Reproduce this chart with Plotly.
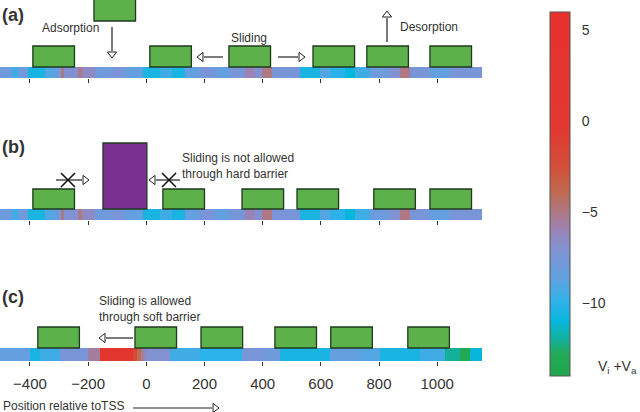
import plotly.graph_objects as go

# ---------------- data ----------------
# energy landscape (Vi+Va) along the DNA, piecewise segments (bp edges, values)
strip_ab_edges = [-503, -462, -441, -407, -349, -314, -294, -284, -235, -221, -177, -125, -74, -12,
                  47, 88, 133, 184, 236, 287, 339, 373, 397, 432, 528, 596, 631, 683, 717, 769,
                  837, 872, 906, 975, 1044, 1154]
strip_ab_values = [-8, -9.5, -8, -10.5, -9, -8, -5, -7, -5, -6.5, -8, -7.5, -8.5, -10.5, -9.5,
                   -10.5, -8.5, -7.5, -8.5, -7.5, -6, -7, -5, -7.5, -10.5, -9, -10, -11, -9.5,
                   -8, -7, -5, -7.5, -8.5, -7.5]
strip_c_edges = [-503, -400, -366, -297, -201, -160, -46, -32, -19, -8, 2, 81, 184, 329, 408,
                 459, 631, 734, 803, 941, 1027, 1078, 1113, 1154]
strip_c_values = [-8.5, -10.5, -9.5, -7.5, -5.5, 1, -2, -4, -5.5, -6.5, -7, -9.5, -10, -7.5, -8,
                  -10.5, -8.5, -9, -10.5, -9.5, -12, -13, -11]

# nucleosome start positions (bp)
nuc_a = [-390, 12, 284, 573, 758, 975]
nuc_a_adsorbing = [-180]
nuc_b = [-390, 57, 329, 518, 782, 975]
barrier_b = [-149]
nuc_c = [-373, -39, 188, 442, 634, 899]
nuc_width = 143
barrier_width = 151

tick_vals = [-400, -200, 0, 200, 400, 600, 800, 1000]
cbar_ticks = [-10, -5, 0, 5]

# ---------------- layout helpers ----------------
W, H = 640, 412
XR = [-503, 1154]
XDOM = [0, 482 / W]

def ydom(top_px, bot_px):
    return [1 - bot_px / H, 1 - top_px / H]

TXT = "#333333"
FONT = "Liberation Sans, Arial, sans-serif"
GREEN = "#5db14a"
EDGE = "#1f3a1f"

colorscale = [
    [0.0, "#20a64e"], [0.06, "#22aa58"], [0.10, "#14b09a"], [0.15, "#08b6dc"],
    [0.20, "#2cb2ea"], [0.265, "#60a2e0"], [0.345, "#8092d4"], [0.40, "#9a84b6"],
    [0.45, "#ae7884"], [0.50, "#bc6c52"], [0.575, "#d2503a"], [0.675, "#e2382f"],
    [1.0, "#e8302f"],
]

fig = go.Figure()

panels = [
    # (axis suffix, top px, bottom px, strip top px, edges, values)
    ("", 0, 78, 67, strip_ab_edges, strip_ab_values),
    ("2", 130, 220, 209, strip_ab_edges, strip_ab_values),
    ("3", 300, 361, 348, strip_c_edges, strip_c_values),
]

for suf, top, bot, stop, edges, vals in panels:
    fig.add_trace(go.Heatmap(
        x=edges, y=[stop, bot], z=[vals], coloraxis="coloraxis",
        xaxis="x" + suf, yaxis="y" + suf, hoverinfo="skip"))

def add_boxes(starts, width, y0, y1, suf, fill):
    for s in starts:
        fig.add_shape(type="rect", xref="x" + suf, yref="y" + suf,
                      x0=s, x1=s + width, y0=y0, y1=y1,
                      fillcolor=fill, line=dict(color=EDGE, width=1.3), layer="above")

add_boxes(nuc_a, nuc_width, 46, 67, "", GREEN)
add_boxes(nuc_a_adsorbing, nuc_width, -1, 21, "", GREEN)
add_boxes(nuc_b, nuc_width, 189, 209, "2", GREEN)
add_boxes(barrier_b, barrier_width, 143, 209, "2", "#7a3090")
add_boxes(nuc_c, nuc_width, 327, 348, "3", GREEN)

# ---------------- arrows / marks on a pixel overlay ----------------
def arrow(x0, y0, x1, y1, sym):
    fig.add_trace(go.Scatter(x=[x0, x1], y=[y0, y1], mode="lines",
                             line=dict(color="#222", width=1.2),
                             xaxis="x4", yaxis="y4", hoverinfo="skip"))
    dx, dy = x1 - x0, y1 - y0
    fig.add_trace(go.Scatter(x=[x1 + (3 if dx > 0 else -3 if dx < 0 else 0)],
                             y=[y1 + (3 if dy > 0 else -3 if dy < 0 else 0)],
                             mode="markers",
                             marker=dict(symbol=sym, size=8, color="white",
                                         line=dict(color="#222", width=1)),
                             xaxis="x4", yaxis="y4", hoverinfo="skip"))

arrow(112, 27, 112, 51, "triangle-down")
arrow(223, 57, 204, 57, "triangle-left")
arrow(278, 57, 298, 57, "triangle-right")
arrow(387, 42, 387, 18, "triangle-up")
arrow(56, 180, 82, 180, "triangle-right")
arrow(180, 180, 156, 180, "triangle-left")
arrow(133, 338, 106, 338, "triangle-left")
arrow(133, 408, 212, 408, "triangle-right")

fig.add_trace(go.Scatter(x=[68, 169], y=[180, 180], mode="markers",
                         marker=dict(symbol="x-thin", size=14,
                                     line=dict(color="#111", width=1.5)),
                         xaxis="x4", yaxis="y4", hoverinfo="skip"))

def text(x, y, s, size=12, anchor="center", bold=False):
    fig.add_annotation(x=x, y=y, xref="x4", yref="y4", text=("<b>%s</b>" % s) if bold else s,
                       showarrow=False, xanchor=anchor, yanchor="middle", align="left",
                       font=dict(family=FONT, size=size, color=TXT))

text(70, 28, "Adsorption")
text(249, 38, "Sliding")
text(429, 27, "Desorption")
text(180, 166, "Sliding is not allowed<br>through hard barrier", anchor="left")
text(97, 309, "Sliding is allowed<br>through soft barrier", anchor="left")
text(0, 15, "(a)", size=18, anchor="left", bold=True)
text(0, 147, "(b)", size=18, anchor="left", bold=True)
text(0, 297, "(c)", size=18, anchor="left", bold=True)
text(1, 406, "Position relative toTSS", anchor="left")
text(596, 367, "V<sub>i</sub> +V<sub>a</sub>", size=14, anchor="left")

# ---------------- axes ----------------
xcommon = dict(range=XR, domain=XDOM, showgrid=False, zeroline=False, showline=False,
               ticks="outside", ticklen=4, tickcolor="#333", tickwidth=1,
               tickvals=tick_vals, fixedrange=True)

layout = dict(
    width=W, height=H, margin=dict(l=0, r=0, t=0, b=0),
    paper_bgcolor="white", plot_bgcolor="rgba(0,0,0,0)", showlegend=False,
    font=dict(family=FONT, color=TXT),
    coloraxis=dict(cmin=-14, cmax=6, colorscale=colorscale,
                   colorbar=dict(x=550 / W, xanchor="left", xpad=0,
                                 y=1 - 194 / H, yanchor="middle", ypad=0,
                                 len=364 / H, lenmode="fraction", thickness=20,
                                 outlinewidth=1, outlinecolor="#555",
                                 tickvals=cbar_ticks, ticks="outside", ticklen=9,
                                 tickcolor="rgba(0,0,0,0)",
                                 tickfont=dict(family=FONT, size=14, color=TXT))),
    xaxis=dict(anchor="y", showticklabels=False, **xcommon),
    yaxis=dict(anchor="x", domain=ydom(0, 78), range=[78, 0], visible=False, fixedrange=True),
    xaxis2=dict(anchor="y2", showticklabels=False, **xcommon),
    yaxis2=dict(anchor="x2", domain=ydom(130, 220), range=[220, 130], visible=False, fixedrange=True),
    xaxis3=dict(anchor="y3", showticklabels=True, ticklabelstandoff=5,
                tickfont=dict(family=FONT, size=15, color=TXT), **xcommon),
    yaxis3=dict(anchor="x3", domain=ydom(300, 361), range=[361, 300], visible=False, fixedrange=True),
    xaxis4=dict(anchor="y4", domain=[0, 1], range=[0, W], visible=False, fixedrange=True),
    yaxis4=dict(anchor="x4", domain=[0, 1], range=[H, 0], visible=False, fixedrange=True),
)
fig.update_layout(**layout)

fig.write_html("out.html", config={"displayModeBar": False},
               post_script="document.body.style.margin='0';document.body.style.overflow='hidden';")
